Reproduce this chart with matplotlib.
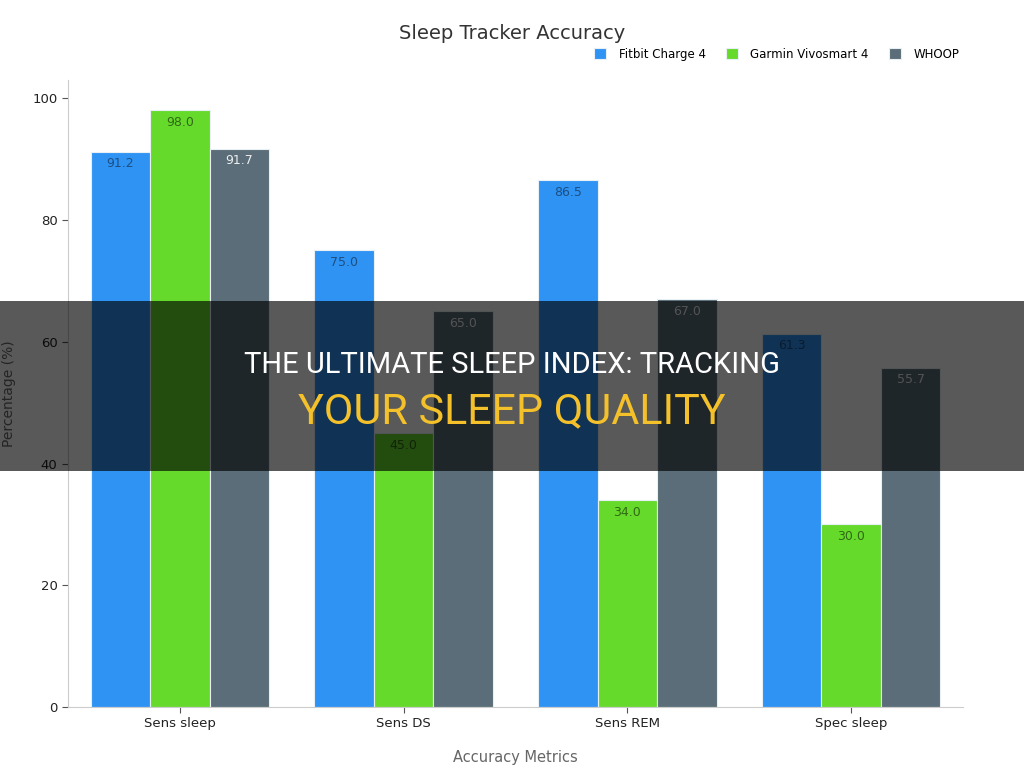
import numpy as np
import matplotlib.pyplot as plt
from matplotlib.patches import Rectangle

### data
categories = ['Sens sleep', 'Sens DS', 'Sens REM', 'Spec sleep']
series = ['Fitbit Charge 4', 'Garmin Vivosmart 4', 'WHOOP']
fitbit = [91.2, 75.0, 86.5, 61.3]
garmin = [98.0, 45.0, 34.0, 30.0]
whoop = [91.7, 65.0, 67.0, 55.7]
colors = ['#2e93f3', '#66da2b', '#5a6d78']
label_colors = ['#1d4f84', '#2f6b14', '#eeeeee']

### figure
fig = plt.figure(figsize=(10.24, 7.68), dpi=100)
ax = fig.add_axes([0.0664, 0.0794, 0.874, 0.8164])

x = np.arange(len(categories))
w = 0.266
for i, (vals, name) in enumerate(zip([fitbit, garmin, whoop], series)):
    bars = ax.bar(x + (i - 1) * w, vals, w, color=colors[i], label=name,
                  edgecolor='#e8f0f5', linewidth=0.8)
    for b, v in zip(bars, vals):
        ax.text(b.get_x() + b.get_width() / 2, v - 0.9, '%.1f' % v,
                ha='center', va='top', fontsize=9, color=label_colors[i])

ax.set_xlim(-0.5, 3.5)
ax.set_ylim(0, 103)
ax.set_xticks(x)
ax.set_xticklabels(categories, fontsize=9.5, color='#222222')
ax.set_yticks([0, 20, 40, 60, 80, 100])
ax.tick_params(axis='y', labelsize=9.5, colors='#222222', length=4, color='#555555')
ax.tick_params(axis='x', length=4, color='#555555')
for s in ['top', 'right']:
    ax.spines[s].set_visible(False)
for s in ['left', 'bottom']:
    ax.spines[s].set_color('#cccccc')
ax.set_ylabel('Percentage (%)', fontsize=10, color='#666666')
ax.set_xlabel('Accuracy Metrics', fontsize=10.5, color='#666666', labelpad=14)
ax.yaxis.set_label_coords(-0.058, 0.5)

fig.text(0.5, 0.957, 'Sleep Tracker Accuracy', ha='center', va='center',
         fontsize=14, color='#333333')
ax.legend(loc='lower right', bbox_to_anchor=(1.008, 1.014), ncol=3, frameon=False,
          fontsize=8.5, handlelength=1.0, handleheight=1.0, columnspacing=1.75,
          handletextpad=1.05)

### overlay banner
fig.patches.append(Rectangle((0, 0.3867), 1, 0.2213, transform=fig.transFigure,
                             facecolor='black', alpha=0.65, zorder=10))
fig.text(0.5, 0.525, 'THE ULTIMATE SLEEP INDEX: TRACKING', ha='center', va='center',
         fontsize=21, color='white', family='Roboto', zorder=11)
fig.text(0.5, 0.464, 'YOUR SLEEP QUALITY', ha='center', va='center',
         fontsize=31, color='#f5c12a', family='Roboto', zorder=11)

fig.savefig('out.png', dpi=100)
